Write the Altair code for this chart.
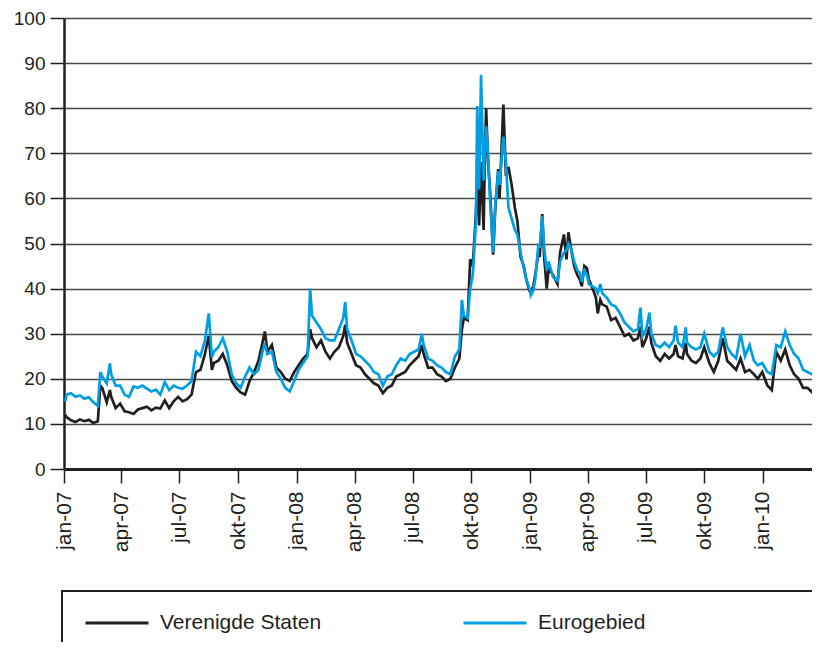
import altair as alt
import pandas as pd

dates = [
    "2007-01-03","2007-01-05","2007-01-12","2007-01-19","2007-01-26","2007-02-02","2007-02-09","2007-02-16","2007-02-23","2007-02-27",
    "2007-03-02","2007-03-09","2007-03-14","2007-03-16","2007-03-23","2007-03-30","2007-04-06","2007-04-13","2007-04-20","2007-04-27",
    "2007-05-04","2007-05-11","2007-05-18","2007-05-25","2007-06-01","2007-06-08","2007-06-15","2007-06-22","2007-06-29","2007-07-06",
    "2007-07-13","2007-07-20","2007-07-27","2007-08-03","2007-08-10","2007-08-16","2007-08-21","2007-08-24","2007-08-31","2007-09-07",
    "2007-09-14","2007-09-21","2007-09-28","2007-10-05","2007-10-12","2007-10-19","2007-10-26","2007-11-02","2007-11-09","2007-11-12",
    "2007-11-16","2007-11-23","2007-11-30","2007-12-07","2007-12-14","2007-12-21","2007-12-28",
    "2008-01-04","2008-01-11","2008-01-18","2008-01-22","2008-01-25","2008-02-01","2008-02-08","2008-02-15","2008-02-22","2008-02-29",
    "2008-03-07","2008-03-14","2008-03-17","2008-03-20","2008-03-27","2008-04-03","2008-04-10","2008-04-17","2008-04-24","2008-05-01",
    "2008-05-08","2008-05-15","2008-05-22","2008-05-29","2008-06-05","2008-06-12","2008-06-19","2008-06-26","2008-07-03","2008-07-10",
    "2008-07-15","2008-07-18","2008-07-25","2008-08-01","2008-08-08","2008-08-15","2008-08-22","2008-08-29","2008-09-05","2008-09-12",
    "2008-09-16","2008-09-19","2008-09-25","2008-09-29","2008-10-03","2008-10-06","2008-10-08","2008-10-10","2008-10-13","2008-10-16",
    "2008-10-20","2008-10-22","2008-10-24","2008-10-27","2008-10-30","2008-11-04","2008-11-07","2008-11-12","2008-11-14","2008-11-20",
    "2008-11-24","2008-11-28","2008-12-03","2008-12-08","2008-12-12","2008-12-17","2008-12-22","2008-12-26","2008-12-31",
    "2009-01-02","2009-01-06","2009-01-09","2009-01-14","2009-01-16","2009-01-20","2009-01-23","2009-01-27","2009-01-30","2009-02-06",
    "2009-02-13","2009-02-17","2009-02-23","2009-02-27","2009-03-02","2009-03-06","2009-03-11","2009-03-16","2009-03-20","2009-03-23",
    "2009-03-27","2009-03-31","2009-04-03","2009-04-09","2009-04-14","2009-04-17","2009-04-21","2009-04-24","2009-05-01","2009-05-08",
    "2009-05-15","2009-05-22","2009-05-29","2009-06-05","2009-06-12","2009-06-19","2009-06-23","2009-06-26","2009-07-02","2009-07-07",
    "2009-07-10","2009-07-17","2009-07-24","2009-07-31","2009-08-07","2009-08-14","2009-08-17","2009-08-21","2009-08-28","2009-09-02",
    "2009-09-04","2009-09-11","2009-09-18","2009-09-25","2009-10-01","2009-10-09","2009-10-16","2009-10-23","2009-10-30","2009-11-06",
    "2009-11-13","2009-11-20","2009-11-27","2009-12-04","2009-12-11","2009-12-18","2009-12-24","2009-12-31",
    "2010-01-08","2010-01-15","2010-01-22","2010-01-29","2010-02-05","2010-02-12","2010-02-19","2010-02-26","2010-03-05","2010-03-12",
    "2010-03-19","2010-03-23",
]

verenigde_staten = [
    12.0,11.5,10.8,10.4,11.0,10.6,10.9,10.2,10.6,18.5,
    18.0,14.8,17.5,16.0,13.5,14.5,12.8,12.6,12.2,13.2,
    13.5,13.8,13.0,13.6,13.4,15.2,13.5,15.0,16.0,15.0,
    15.5,16.5,21.5,22.0,25.5,29.5,22.0,23.5,24.0,25.5,
    23.0,19.5,18.0,17.0,16.5,19.5,21.5,24.0,28.5,30.5,
    26.0,27.5,22.5,21.5,20.0,19.5,21.5,
    23.0,24.5,25.5,31.0,29.0,27.0,28.5,26.0,24.5,26.0,
    27.0,29.5,32.0,28.0,25.5,23.0,22.5,21.0,20.0,19.0,
    18.5,16.8,18.0,18.5,20.5,21.0,21.5,23.0,24.0,25.0,
    27.5,25.5,22.5,22.5,21.0,20.5,19.5,20.0,22.5,24.5,
    31.0,33.5,33.0,46.5,45.0,52.0,57.0,64.0,54.0,68.0,
    53.0,69.0,80.0,68.0,62.0,47.5,57.0,66.5,60.0,80.8,
    65.0,67.0,63.0,58.0,55.0,47.0,45.0,42.0,39.5,
    39.5,40.5,43.0,48.0,47.0,56.5,47.0,40.0,44.5,43.0,
    41.0,48.0,52.0,46.5,52.5,49.0,45.0,43.0,42.0,40.5,
    45.0,44.5,42.0,40.0,38.0,34.5,37.5,36.5,36.0,33.0,
    33.5,31.5,29.5,30.0,28.5,29.0,31.5,27.0,29.0,31.5,
    28.0,25.0,24.0,25.5,24.5,25.5,27.5,25.0,24.5,28.0,
    25.5,24.0,23.5,24.5,27.0,23.5,21.5,24.0,29.0,24.0,
    23.0,22.0,24.5,21.5,22.0,21.0,20.0,21.5,
    18.5,17.5,26.0,24.0,26.5,23.0,21.0,20.0,18.0,18.0,
    17.0,18.5,
]

eurogebied = [
    15.0,16.5,16.8,16.0,16.3,15.6,15.9,14.8,14.0,21.5,
    20.5,19.0,23.4,21.0,18.5,18.5,16.5,16.0,18.3,18.0,
    18.5,17.8,17.2,17.6,16.5,19.3,17.5,18.5,18.0,17.8,
    18.5,19.5,26.0,25.0,28.5,34.5,24.8,26.0,27.0,29.0,
    26.0,21.0,19.0,18.0,20.5,22.5,21.0,22.0,26.5,27.5,
    25.5,26.0,21.5,20.0,18.0,17.2,19.5,
    22.0,23.5,25.0,40.0,34.0,32.5,31.0,29.0,28.5,28.5,
    31.0,33.5,37.0,31.0,28.5,25.5,25.0,24.0,23.0,21.5,
    21.0,18.5,20.5,21.0,23.0,24.5,24.0,25.5,26.0,26.5,
    30.0,27.5,24.5,24.0,23.0,22.5,21.5,21.0,25.0,26.5,
    37.5,34.0,33.5,40.0,43.0,50.0,55.0,80.5,62.0,87.4,
    64.0,70.0,76.0,70.0,60.0,48.0,58.0,66.0,63.0,73.7,
    68.0,58.0,55.5,53.0,52.0,48.0,44.5,42.0,40.0,
    38.5,39.5,42.0,50.0,49.0,56.0,49.0,44.0,46.0,42.5,
    41.7,46.0,48.0,48.5,50.0,49.0,46.0,44.0,43.5,41.5,
    44.0,43.0,41.0,40.5,40.0,39.0,41.0,39.0,38.0,36.5,
    36.0,34.5,32.5,31.5,30.5,31.0,35.8,29.5,31.0,34.7,
    30.0,27.5,27.0,28.0,27.0,28.5,31.8,28.0,27.0,31.4,
    28.0,27.0,26.5,27.0,30.0,26.0,25.0,26.0,31.4,27.0,
    25.5,24.5,30.0,25.0,27.5,24.0,23.0,23.5,
    21.5,21.0,27.5,27.0,30.5,27.5,25.5,24.5,22.0,21.5,
    21.0,20.3,
]

series_names = ["Verenigde Staten", "Eurogebied"]
series_colors = ["#231f20", "#009fe3"]
y_ticks = [0, 10, 20, 30, 40, 50, 60, 70, 80, 90, 100]
month_nl = ["jan", "feb", "mrt", "apr", "mei", "jun", "jul", "aug", "sep", "okt", "nov", "dec"]
tick_dates = [(y, m) for y in (2007, 2008, 2009) for m in (1, 4, 7, 10)] + [(2010, 1)]

df = pd.concat([
    pd.DataFrame({"datum": dates, "waarde": verenigde_staten, "reeks": series_names[0]}),
    pd.DataFrame({"datum": dates, "waarde": eurogebied, "reeks": series_names[1]}),
])

label_expr = ("[" + ",".join("'%s'" % m for m in month_nl) + "][month(datum.value)]"
              " + '-' + timeFormat(datum.value, '%y')")

x_enc = alt.X(
    "datum:T",
    scale=alt.Scale(domain=[alt.DateTime(year=2007, month=1, date=1),
                            alt.DateTime(year=2010, month=3, date=19)]),
    axis=alt.Axis(
        title=None,
        values=[alt.DateTime(year=y, month=m, date=1) for y, m in tick_dates],
        labelExpr=label_expr,
        labelAngle=270,
        labelFontSize=21,
        labelPadding=8,
        tickSize=14,
        tickWidth=1.5,
        tickColor="#231f20",
        domainColor="#231f20",
        domainWidth=3,
        grid=False,
        labelColor="#231f20",
        labelFont="Liberation Sans",
    ),
)
y_enc = alt.Y(
    "waarde:Q",
    scale=alt.Scale(domain=[0, 100], nice=False),
    axis=alt.Axis(
        title=None,
        values=y_ticks,
        labelFontSize=19,
        labelPadding=5,
        tickSize=14,
        tickWidth=1.5,
        tickColor="#231f20",
        domainColor="#231f20",
        domainWidth=2.5,
        gridColor="#4a4a4a",
        gridWidth=1.3,
        labelColor="#231f20",
        labelFont="Liberation Sans",
    ),
)
color_enc = alt.Color(
    "reeks:N",
    scale=alt.Scale(domain=series_names, range=series_colors),
    legend=alt.Legend(
        title=None,
        orient="none",
        direction="horizontal",
        legendX=20,
        legendY=572,
        symbolType="stroke",
        symbolSize=3969,
        symbolStrokeWidth=3,
        labelFontSize=21,
        labelFont="Liberation Sans",
        labelColor="#231f20",
        labelOffset=10,
        labelLimit=400,
        columnPadding=135,
        padding=0,
    ),
)

lines_us = alt.Chart(df).transform_filter(
    alt.datum.reeks == series_names[0]
).mark_line(strokeWidth=2.7, clip=True).encode(x=x_enc, y=y_enc, color=color_enc)

lines_ez = alt.Chart(df).transform_filter(
    alt.datum.reeks == series_names[1]
).mark_line(strokeWidth=2.7, clip=True).encode(x=x_enc, y=y_enc, color=color_enc)

legend_box = alt.Chart(pd.DataFrame({"k": [0]})).mark_rect(
    fillOpacity=0, stroke="#231f20", strokeWidth=2
).encode(x=alt.value(-2), x2=alt.value(770), y=alt.value(573), y2=alt.value(720))

chart = alt.layer(lines_us, lines_ez, legend_box).properties(
    width=748,
    height=451,
    autosize=alt.AutoSizeParams(type="none"),
    padding={"left": 56, "top": 10, "right": 0, "bottom": 173},
).configure_view(
    stroke="#231f20", strokeWidth=1.5
).configure(font="Liberation Sans")

chart.save("out.html", embed_options={"renderer": "svg", "actions": False})
